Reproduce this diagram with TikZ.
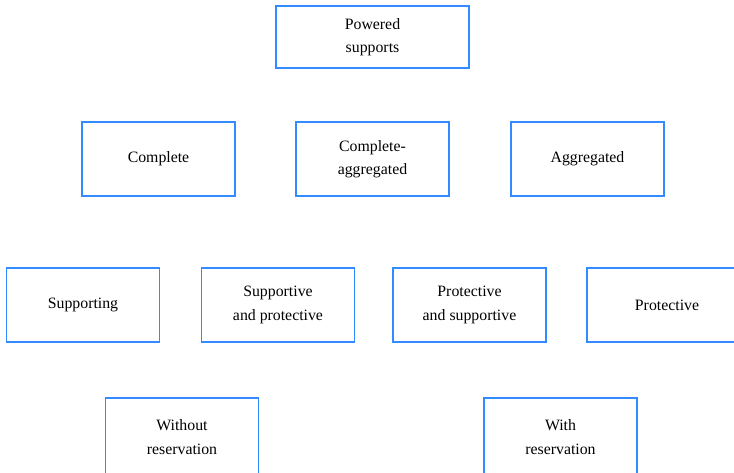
\documentclass[tikz,border=0pt]{standalone}
\usepackage{fontspec}
\setmainfont{Liberation Serif}
\definecolor{boxblue}{RGB}{51,140,255}

\begin{document}
\begin{tikzpicture}[x = 0.03cm, y = -0.03cm,
    every node/.style = {shape = rectangle, draw = boxblue, line width = 1.5pt,
        minimum width = 4.59cm, minimum height = 2.22cm, align = center,
        font = \fontsize{13.5}{20}\selectfont}]
        \useasboundingbox (0,0) rectangle (734,472);
        \clip (0,0) rectangle (734,472);
        \node[minimum width = 5.79cm, minimum height = 1.86cm] (powered) at (372.5,37) {Powered\\supports};
        % second row
        \node (complete) at (158.5,159) {Complete};
        \node (compagg) at (372.5,159) {Complete-\\aggregated};
        \node (aggregated) at (587.5,159) {Aggregated};
        % third row
        \node (supporting) at (83,305) {Supporting};
        \node (suppprot) at (278,305) {Supportive\\and protective};
        \node (protsupp) at (469.5,305) {Protective\\and supportive};
        \node[minimum width = 4.8cm] (protective) at (667,305) {Protective};
        % fourth row
        \node[minimum height = 2.34cm] (without) at (182,437) {Without\\reservation};
        \node[minimum height = 2.34cm] (with) at (560.5,437) {With\\reservation};
\end{tikzpicture}
\end{document}
